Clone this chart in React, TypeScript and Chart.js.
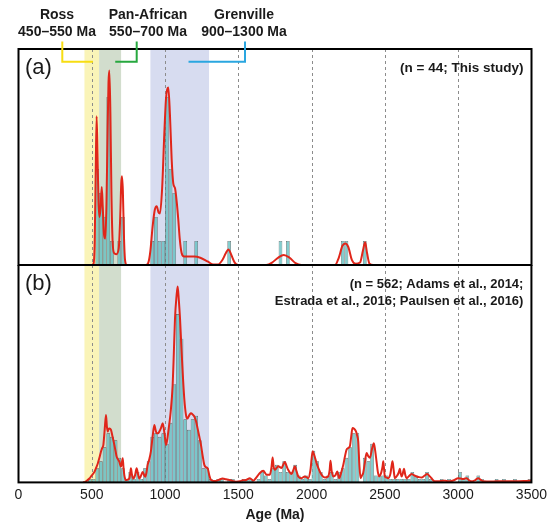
import React, { useEffect, useRef } from "react";
import { Chart, registerables } from "chart.js";

Chart.register(...registerables);

// ---------- axis ----------
const AGE_MIN = 0;
const AGE_MAX = 3500;
const AGE_STEP = 500;
const BIN = 25;
const dashedAges = [500, 1000, 1500, 2000, 2500, 3000];

// ---------- orogen bands ----------
const bandNames = ["Ross", "Pan-African", "Grenville"];
const bandRanges = ["450–550 Ma", "550–700 Ma", "900–1300 Ma"];
const bandStarts = [450, 550, 900];
const bandEnds = [550, 700, 1300];
const bandFills = ["#faf4b8", "#d2ddcd", "#d7dcf0"];
const bracketColors = ["#f7dd12", "#27a83f", "#2aa6e0"];

// ---------- panel (a): n = 44, this study ----------
const binStartsA = [525, 550, 575, 600, 625, 650, 675, 700, 900, 925, 950, 975, 1000, 1025, 1050, 1125, 1200, 1425, 1775, 1825, 2200, 2225, 2350];
const countsA = [4, 3, 2, 7, 1, 0, 1, 2, 1, 2, 1, 1, 7, 4, 3, 1, 1, 1, 1, 1, 1, 1, 1];

const kdeAgesA = [0, 500, 512, 520, 527, 533, 539, 546, 553, 560, 568, 575, 583, 592, 600, 608, 614, 620, 627, 634, 642, 652, 668, 684, 694, 701, 706, 712, 719, 727, 740,
  870, 886, 900, 915, 930, 943, 955, 965, 980, 995, 1006, 1014, 1022, 1033, 1045, 1056, 1068, 1080, 1090, 1100, 1113, 1130, 1160, 1200, 1240, 1290, 1330, 1360,
  1390, 1415, 1432, 1450, 1475, 1500, 1690, 1730, 1770, 1810, 1850, 1890, 1930, 2160, 2185, 2210, 2230, 2250, 2275, 2300, 2330, 2350, 2365, 2378, 2395, 2420, 3500];
const kdeValsA = [0, 0, 0.05, 1, 4, 6.2, 4.6, 2.6, 2, 2.4, 3.25, 2.4, 1.3, 1.1, 2.5, 5.6, 7.6, 8.1, 6.3, 3, 1, 0.5, 0.45, 0.7, 2, 3.4, 3.7, 3.1, 1.3, 0.2, 0,
  0, 0.1, 0.6, 1.6, 2.3, 2.45, 2.2, 2.15, 3.2, 5.5, 6.9, 7.3, 7.4, 6.3, 4.4, 3.4, 3.2, 2.6, 1.9, 1.1, 0.5, 0.35, 0.35, 0.35, 0.3, 0.15, 0.02, 0.02,
  0.2, 0.5, 0.65, 0.45, 0.1, 0, 0, 0.1, 0.3, 0.42, 0.3, 0.08, 0, 0, 0.3, 0.8, 0.9, 0.75, 0.2, 0.05, 0.1, 0.6, 0.95, 0.5, 0.05, 0, 0];

// ---------- panel (b): n = 562, compiled ----------
const binStartsB = [450, 475, 500, 525, 550, 575, 600, 625, 650, 675, 700, 725, 750, 775, 800, 825, 850, 875, 900, 925,
  950, 975, 1000, 1025, 1050, 1075, 1100, 1125, 1150, 1175, 1200, 1225, 1250, 1275, 1300, 1325, 1350, 1375, 1400, 1425,
  1450, 1475, 1500, 1525, 1550, 1575, 1600, 1625, 1650, 1675, 1700, 1725, 1750, 1775, 1800, 1825, 1850, 1875, 1900, 1925,
  1950, 1975, 2000, 2025, 2050, 2075, 2100, 2125, 2150, 2175, 2200, 2225, 2250, 2275, 2300, 2325, 2350, 2375, 2400, 2425,
  2450, 2475, 2500, 2525, 2550, 2575, 2600, 2625, 2650, 2675, 2700, 2725, 2750, 2775, 2800, 2825, 2850, 2875, 2900, 2925,
  2950, 2975, 3000, 3025, 3050, 3075, 3100, 3125, 3150, 3175, 3200, 3225, 3250, 3275, 3300, 3325, 3350, 3375, 3400, 3425,
  3450, 3475];
const countsB = [0, 1, 1, 4, 6, 10, 14, 13, 12, 7, 4, 1, 3, 1, 3, 1, 4, 6, 13, 14,
  13, 14, 11, 17, 28, 48, 41, 18, 15, 18, 19, 12, 4, 4, 1, 0, 1, 1, 0, 1,
  1, 0, 0, 1, 1, 1, 0, 1, 3, 2, 1, 4, 5, 3, 6, 3, 3, 5, 2, 1,
  2, 1, 9, 6, 3, 1, 2, 3, 1, 3, 4, 7, 10, 14, 14, 0, 7, 6, 11, 2,
  2, 2, 2, 1, 1, 1, 1, 1, 1, 3, 2, 1, 1, 3, 1, 0, 0, 1, 0, 1,
  0, 0, 3, 1, 2, 0, 0, 2, 1, 0, 0, 0, 1, 0, 1, 0, 0, 1, 0, 0,
  0, 1];

const kdeAgesB = [440, 454, 470, 484, 500, 518, 530, 541, 552, 563, 571, 579, 588, 597, 603, 609, 615, 620, 631, 642, 654, 662, 670, 680, 688, 699, 705, 711, 716, 722,
  733, 745, 756, 762, 767, 773, 783, 795, 806, 815, 824, 835, 847, 856, 865, 874, 881, 892, 904, 915, 927, 935, 943, 952, 961, 972, 984, 996, 1007, 1016,
  1025, 1038, 1052, 1060, 1068, 1078, 1086, 1094, 1102, 1111, 1120, 1131, 1143, 1152, 1161, 1170, 1177, 1188, 1200, 1211, 1222, 1234, 1245, 1257, 1268, 1280, 1291, 1302, 1313, 1330,
  1347, 1370, 1393, 1415, 1438, 1460, 1484, 1510, 1530, 1552, 1579, 1602, 1625, 1647, 1670, 1693, 1715, 1727, 1734, 1741, 1750, 1772, 1795, 1808, 1818, 1828, 1840, 1863, 1875, 1886,
  1897, 1909, 1931, 1954, 1977, 1992, 2007, 2020, 2034, 2047, 2061, 2075, 2091, 2113, 2123, 2129, 2136, 2148, 2162, 2175, 2188, 2200, 2216, 2228, 2238, 2250, 2261, 2270, 2279, 2290,
  2302, 2310, 2318, 2326, 2334, 2344, 2352, 2363, 2375, 2386, 2398, 2412, 2425, 2434, 2443, 2452, 2461, 2470, 2477, 2484, 2489, 2494, 2500, 2512, 2523, 2538, 2545, 2552, 2560, 2568,
  2585, 2596, 2602, 2608, 2614, 2622, 2630, 2639, 2648, 2665, 2682, 2700, 2716, 2733, 2750, 2770, 2789, 2805, 2818, 2830, 2841, 2870, 2898, 2920, 2943, 2970, 3000, 3017, 3034, 3046,
  3057, 3075, 3091, 3115, 3137, 3155, 3171, 3230, 3285, 3340, 3398, 3450, 3500];
const kdeValsB = [0, 0.1, 0.6, 1.1, 2, 3, 4.2, 5.4, 7, 8.8, 9.8, 10.7, 15, 19.2, 16, 14.5, 15.3, 15.4, 15, 13, 10.7, 9, 7.3, 6.5, 5.9, 4.5, 5.5, 6.9, 4.5, 2.1,
  0.7, 0.8, 1.1, 2.5, 4, 2.5, 1.1, 2, 4, 2.5, 1.1, 1.8, 3, 2.2, 1.6, 3, 5, 6.5, 9, 13, 16.4, 15, 14, 14, 14.5, 15.5, 16.9, 14, 10.7, 12.5,
  15.4, 20, 27.8, 37, 46.9, 53, 55.9, 52, 46.9, 39, 31.6, 24, 19.2, 18.2, 18.8, 19.5, 19.7, 19.4, 18.8, 17.5, 15.4, 13, 10.7, 7.5, 5, 4.3, 4, 2, 0.7, 0.4,
  0.4, 0.8, 1.1, 0.9, 0.7, 0.4, 0.2, 0.3, 0.6, 0.7, 1.2, 0.5, 1.5, 2.7, 3.3, 2.2, 2.2, 4.5, 7.1, 4.5, 3.6, 4.6, 4.1, 5.2, 5.8, 4.8, 3.6, 2.4, 3.5, 4.6,
  3.2, 1.7, 1.2, 1.7, 1.2, 3.5, 8.9, 7.5, 5.5, 4, 2.7, 1.8, 1.4, 1.7, 3.5, 6.2, 3.5, 1.7, 2, 3.1, 1.2, 2.5, 5, 7.5, 9.3, 9.8, 10.3, 13, 15.5, 15.3,
  14.6, 13.5, 11.7, 5, 1.2, 2, 2.7, 5.5, 8.4, 7.5, 7, 9.5, 11.2, 9, 6, 3, 1.7, 2.2, 3.1, 4.5, 6, 4, 1.7, 1.4, 1.2, 2.5, 4.5, 6, 3.5, 1.2,
  2, 3, 3.9, 2.5, 1.7, 2.5, 3.9, 2.2, 1.2, 1.8, 2.4, 2, 1.7, 1.5, 1.4, 1.9, 2.4, 1.8, 1.2, 0.6, 0.3, 0.35, 0.5, 0.4, 0.3, 0.6, 1.2, 1.1, 1, 1.1,
  1.2, 0.6, 0.3, 0.6, 1.2, 0.7, 0.3, 0.25, 0.35, 0.3, 0.35, 0.4, 0.5];

const Y_MAX_A = 9;
const Y_MAX_B = 62;

// ---------- styles ----------
const FONT = "'Liberation Sans', Arial, Helvetica, sans-serif";
const RED = "#e0261a";
const BAR_FILL = "rgba(100, 192, 194, 0.8)";
const BAR_EDGE = "#555555";
const DASH_COLOR = "#8c8c8c";
const TEXT = "#1a1a1a";

const W = 551;
const PLOT_LEFT = 18.5;
const PLOT_RIGHT = 531.5;
const TOP_A = 49;
const DIV_Y = 265;
const CANVAS_A_H = 270;
const CANVAS_B_H = 259;
const BAR_PX = (BIN * (PLOT_RIGHT - PLOT_LEFT)) / (AGE_MAX - AGE_MIN);

Chart.defaults.font.family = FONT;

function barPoints(starts: number[], counts: number[]) {
  return starts
    .map((s, i) => ({ x: s + BIN / 2, y: counts[i] }))
    .filter((p) => p.y > 0);
}
function linePoints(ages: number[], vals: number[]) {
  return ages.map((a, i) => ({ x: a, y: vals[i] }));
}

function makeDecor(panel: "a" | "b") {
  return {
    id: "decor_" + panel,
    beforeDatasetsDraw(chart: any) {
      const { ctx, chartArea: ca } = chart;
      const x = chart.scales.x;
      ctx.save();
      bandStarts.forEach((s, i) => {
        const x0 = x.getPixelForValue(s);
        const x1 = x.getPixelForValue(bandEnds[i]);
        ctx.fillStyle = bandFills[i];
        ctx.fillRect(x0, ca.top, x1 - x0, ca.bottom - ca.top);
      });
      ctx.strokeStyle = DASH_COLOR;
      ctx.lineWidth = 1;
      ctx.setLineDash([3, 3]);
      dashedAges.forEach((a) => {
        const px = Math.round(x.getPixelForValue(a)) + 0.5;
        ctx.beginPath();
        ctx.moveTo(px, ca.top);
        ctx.lineTo(px, ca.bottom);
        ctx.stroke();
      });
      ctx.restore();
    },
    afterDraw(chart: any) {
      const { ctx, chartArea: ca } = chart;
      const x = chart.scales.x;
      ctx.save();
      ctx.strokeStyle = "#000";
      ctx.lineWidth = 2;
      ctx.strokeRect(ca.left, ca.top, ca.right - ca.left, ca.bottom - ca.top);
      ctx.fillStyle = TEXT;
      ctx.textBaseline = "middle";
      ctx.textAlign = "left";
      ctx.font = `22px ${FONT}`;
      ctx.fillText(panel === "a" ? "(a)" : "(b)", ca.left + 6.5, ca.top + 19);
      ctx.textAlign = "right";
      if (panel === "a") {
        ctx.font = `bold 13.5px ${FONT}`;
        ctx.fillText("(n = 44; This study)", ca.right - 8, ca.top + 19);
      } else {
        ctx.font = `bold 13px ${FONT}`;
        const notes = ["(n = 562; Adams et al., 2014;", "Estrada et al., 2016; Paulsen et al., 2016)"];
        notes.forEach((t, i) => ctx.fillText(t, ca.right - 8, ca.top + 19 + i * 17.5));
      }
      if (panel === "a") {
        const labelX = [57, 148, 244];
        const bracketX = [62.3, 136.7, 245];
        const tipAges = [508, 660, 1160];
        ctx.textAlign = "center";
        ctx.font = `bold 14px ${FONT}`;
        bandNames.forEach((n, i) => {
          ctx.fillText(n, labelX[i], 15);
          ctx.fillText(bandRanges[i], labelX[i], 32);
        });
        ctx.lineWidth = 2;
        bandNames.forEach((_, i) => {
          ctx.strokeStyle = bracketColors[i];
          ctx.beginPath();
          ctx.moveTo(bracketX[i], 41.5);
          ctx.lineTo(bracketX[i], 61.7);
          ctx.lineTo(x.getPixelForValue(tipAges[i]), 61.7);
          ctx.stroke();
        });
      }
      ctx.restore();
    },
  };
}

function makeConfig(panel: "a" | "b") {
  const isA = panel === "a";
  const bars = isA ? barPoints(binStartsA, countsA) : barPoints(binStartsB, countsB);
  const kde = isA ? linePoints(kdeAgesA, kdeValsA) : linePoints(kdeAgesB, kdeValsB);
  return {
    type: "bar" as const,
    data: {
      datasets: [
        {
          type: "line" as const,
          data: kde,
          borderColor: RED,
          borderWidth: 2,
          pointRadius: 0,
          cubicInterpolationMode: "monotone" as const,
          fill: false,
          order: 0,
        },
        {
          type: "bar" as const,
          data: bars,
          backgroundColor: BAR_FILL,
          borderColor: BAR_EDGE,
          borderWidth: 0.6,
          barThickness: BAR_PX,
          categoryPercentage: 1,
          barPercentage: 1,
          grouped: false,
          inflateAmount: 0,
          order: 1,
        },
      ],
    },
    options: {
      animation: false as const,
      responsive: false,
      events: [],
      layout: {
        padding: isA
          ? { left: PLOT_LEFT, right: W - PLOT_RIGHT, top: TOP_A, bottom: CANVAS_A_H - DIV_Y }
          : { left: PLOT_LEFT, right: W - PLOT_RIGHT, top: 0, bottom: 0 },
      },
      plugins: { legend: { display: false }, tooltip: { enabled: false } },
      scales: {
        x: {
          type: "linear" as const,
          min: AGE_MIN,
          max: AGE_MAX,
          offset: false,
          display: !isA,
          grid: { display: false, drawTicks: false },
          border: { display: false },
          ticks: {
            stepSize: AGE_STEP,
            padding: 4,
            color: TEXT,
            font: { size: 14, family: FONT },
            maxRotation: 0,
            autoSkip: false,
            callback: (v: any) => String(v),
          },
          title: {
            display: true,
            text: "Age (Ma)",
            color: TEXT,
            font: { size: 14, weight: "bold" as const, family: FONT },
            padding: { top: 0, bottom: 0 },
          },
        },
        y: {
          min: 0,
          max: isA ? Y_MAX_A : Y_MAX_B,
          display: false,
        },
      },
    },
    plugins: [makeDecor(panel)],
  };
}

export default function App() {
  const refA = useRef<HTMLCanvasElement>(null);
  const refB = useRef<HTMLCanvasElement>(null);
  useEffect(() => {
    const ca = new Chart(refA.current as HTMLCanvasElement, makeConfig("a") as any);
    const cb = new Chart(refB.current as HTMLCanvasElement, makeConfig("b") as any);
    return () => {
      ca.destroy();
      cb.destroy();
    };
  }, []);
  return (
    <div style={{ position: "absolute", left: 0, top: 0, width: W, height: 523, overflow: "hidden", background: "#fff" }}>
      <canvas ref={refA} width={W} height={CANVAS_A_H} style={{ position: "absolute", left: 0, top: 0, width: W, height: CANVAS_A_H }} />
      <canvas ref={refB} width={W} height={CANVAS_B_H} style={{ position: "absolute", left: 0, top: DIV_Y, width: W, height: CANVAS_B_H }} />
    </div>
  );
}
